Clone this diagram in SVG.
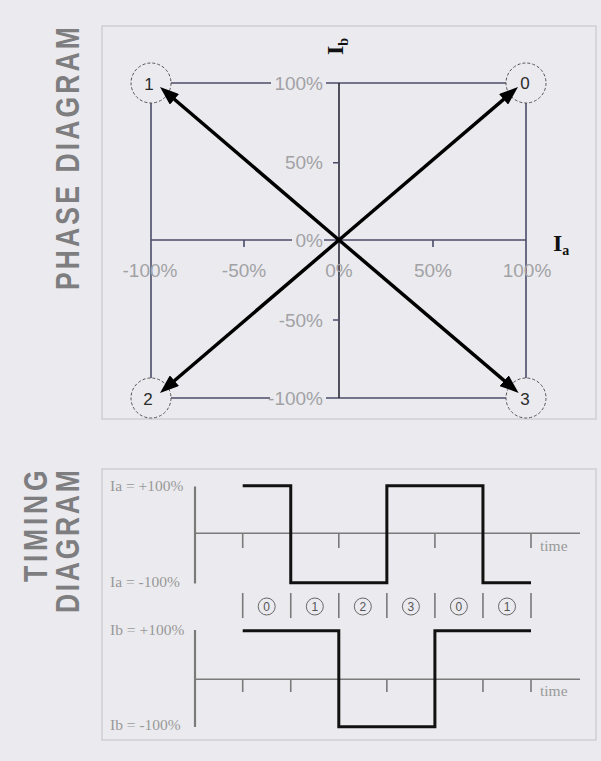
<svg xmlns="http://www.w3.org/2000/svg" width="601" height="761" viewBox="0 0 601 761">
<defs>
<style>
.bg{fill:#ebebef}
.panel{fill:#ebebef;stroke:#cfcfd4;stroke-width:1.5}
.title{font-family:"Liberation Sans",Arial,sans-serif;font-weight:bold;font-size:34px;fill:#7e7e80}
.grid{stroke:#4b4b68;stroke-width:1.6;fill:none}
.vaxis{stroke:#2a2a38;stroke-width:1.6;fill:none}
.pct{font-family:"Liberation Sans",Arial,sans-serif;font-size:19px;fill:#a2a2a5}
.node circle{fill:#ebebef;stroke:#555;stroke-width:1;stroke-dasharray:3,2}
.node text{font-family:"Liberation Sans",Arial,sans-serif;font-size:17px;fill:#2a2a2a;text-anchor:middle}
.arrow{stroke:#000;stroke-width:3.5;fill:none;marker-end:url(#ah)}
.axlbl{font-family:"Liberation Serif","Times New Roman",serif;font-weight:bold;font-size:24px;fill:#111}
.tax{stroke:#7a7a7a;stroke-width:1.6;fill:none}
.tvax{stroke:#7a7a7a;stroke-width:2.2;fill:none}
.wave{stroke:#111;stroke-width:3;fill:none}
.tlbl{font-family:"Liberation Serif","Times New Roman",serif;font-size:15.5px;fill:#999}
.state circle{fill:none;stroke:#666;stroke-width:1}
.state text{font-family:"Liberation Sans",Arial,sans-serif;font-size:12px;fill:#555;text-anchor:middle}
</style>
<marker id="ah" viewBox="0 0 19 14" refX="9" refY="7" markerWidth="19" markerHeight="14" markerUnits="userSpaceOnUse" orient="auto">
<path d="M0,0 L19,7 L0,14 z" fill="#000"/>
</marker>
</defs>
<rect class="bg" x="0" y="0" width="601" height="761"/>

<!-- Titles -->
<text class="title" transform="translate(78.5,290) rotate(-90) scale(0.78,1)" textLength="337" lengthAdjust="spacing">PHASE DIAGRAM</text>
<text class="title" transform="translate(47,582) rotate(-90) scale(0.78,1)" textLength="143" lengthAdjust="spacing">TIMING</text>
<text class="title" transform="translate(78.5,613) rotate(-90) scale(0.78,1)" textLength="183" lengthAdjust="spacing">DIAGRAM</text>

<!-- Phase diagram panel -->
<g id="phase-panel">
<rect class="panel" x="102" y="26" width="494" height="393"/>
<line class="grid" x1="151" y1="83" x2="526" y2="83"/>
<line class="grid" x1="151" y1="398" x2="526" y2="398"/>
<line class="grid" x1="151" y1="83" x2="151" y2="398"/>
<line class="grid" x1="526" y1="83" x2="526" y2="398"/>
<line class="grid" x1="151" y1="240" x2="526" y2="240"/>
<line class="vaxis" x1="339" y1="83" x2="339" y2="398"/>
<path class="grid" d="M244,240 V247 M433,240 V247 M333,162.7 H339 M333,320 H339"/>
<rect class="bg" x="271" y="76" width="55" height="16"/>
<rect class="bg" x="292" y="233" width="32" height="16"/>
<rect class="bg" x="270" y="391" width="56" height="16"/>
<text class="pct" x="323" y="90" text-anchor="end">100%</text>
<text class="pct" x="323" y="169" text-anchor="end">50%</text>
<text class="pct" x="323" y="247" text-anchor="end">0%</text>
<text class="pct" x="323" y="327" text-anchor="end">-50%</text>
<text class="pct" x="323" y="405" text-anchor="end">-100%</text>
<text class="pct" x="150" y="277" text-anchor="middle">-100%</text>
<text class="pct" x="244" y="277" text-anchor="middle">-50%</text>
<text class="pct" x="339" y="277" text-anchor="middle">0%</text>
<text class="pct" x="433" y="277" text-anchor="middle">50%</text>
<text class="pct" x="527" y="277" text-anchor="middle">100%</text>
<text class="axlbl" x="553" y="251">I<tspan font-size="14" dy="4">a</tspan></text>
<text class="axlbl" transform="translate(343,55) rotate(-90)">I<tspan font-size="14" dy="5">b</tspan></text>
</g>

<g id="node-1" class="node"><circle cx="151" cy="83" r="20"/><text x="149" y="89.5">1</text></g>
<g id="node-0" class="node"><circle cx="526" cy="83" r="20"/><text x="525" y="89">0</text></g>
<g id="node-2" class="node"><circle cx="151" cy="398" r="20"/><text x="148" y="404.5">2</text></g>
<g id="node-3" class="node"><circle cx="526" cy="398" r="20"/><text x="525" y="404.5">3</text></g>

<g id="connectors">
<line class="arrow" x1="339" y1="240" x2="167.6" y2="93.5"/>
<line class="arrow" x1="339" y1="240" x2="510.4" y2="93.5"/>
<line class="arrow" x1="339" y1="240" x2="167.6" y2="386.5"/>
<line class="arrow" x1="339" y1="240" x2="511" y2="386.5"/>
</g>

<!-- Timing diagram panel -->
<g id="timing-panel">
<rect class="panel" x="102" y="469" width="494" height="271"/>
<text class="tlbl" x="110" y="491">Ia = +100%</text>
<text class="tlbl" x="110" y="587">Ia = -100%</text>
<text class="tlbl" x="110" y="635">Ib = +100%</text>
<text class="tlbl" x="110" y="730">Ib = -100%</text>
<text class="tlbl" x="540" y="551">time</text>
<text class="tlbl" x="540" y="696">time</text>
<line class="tvax" x1="195" y1="486.5" x2="195" y2="583.5"/>
<line class="tax" x1="195" y1="533.3" x2="580" y2="533.3"/>
<path class="tax" d="M242.7,533.3 V548 M290.75,533.3 V548 M338.8,533.3 V548 M386.85,533.3 V548 M434.9,533.3 V548 M482.95,533.3 V548 M531,533.3 V548"/>
<line class="tvax" x1="195" y1="630" x2="195" y2="727"/>
<line class="tax" x1="195" y1="679.3" x2="580" y2="679.3"/>
<path class="tax" d="M242.7,679.3 V692 M290.75,679.3 V692 M338.8,679.3 V692 M386.85,679.3 V692 M434.9,679.3 V692 M482.95,679.3 V692 M531,679.3 V692"/>
<path class="tax" d="M242.7,593 V618 M290.75,593 V618 M338.8,593 V618 M386.85,593 V618 M434.9,593 V618 M482.95,593 V618 M531,593 V618"/>
<path class="wave" d="M242.7,485.7 H290.75 V582.7 H386.85 V485.7 H482.95 V582.7 H531"/>
<path class="wave" d="M242.7,630.7 H338.8 V726.7 H434.9 V630.7 H531"/>
</g>

<g id="state-0a" class="state"><circle cx="266.7" cy="606.5" r="8.5"/><text x="266.7" y="611">0</text></g>
<g id="state-1a" class="state"><circle cx="314.8" cy="606.5" r="8.5"/><text x="314.8" y="611">1</text></g>
<g id="state-2" class="state"><circle cx="362.8" cy="606.5" r="8.5"/><text x="362.8" y="611">2</text></g>
<g id="state-3" class="state"><circle cx="410.9" cy="606.5" r="8.5"/><text x="410.9" y="611">3</text></g>
<g id="state-0b" class="state"><circle cx="458.9" cy="606.5" r="8.5"/><text x="458.9" y="611">0</text></g>
<g id="state-1b" class="state"><circle cx="507" cy="606.5" r="8.5"/><text x="507" y="611">1</text></g>
</svg>
